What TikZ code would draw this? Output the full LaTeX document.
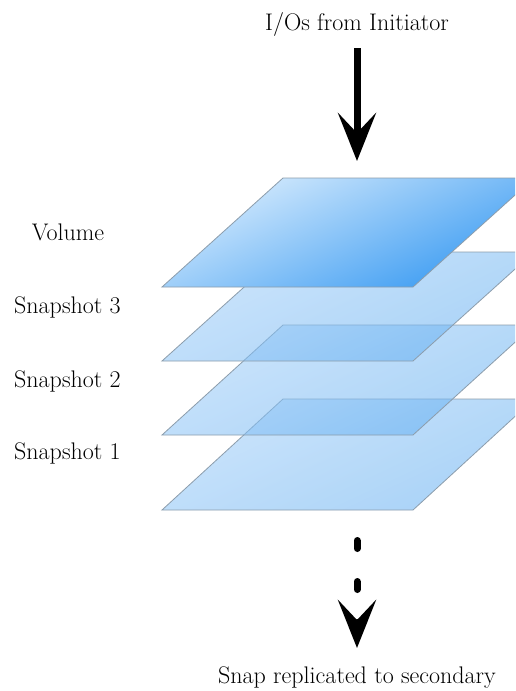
\documentclass[tikz,border=0pt]{standalone}
\usetikzlibrary{arrows.meta}
\definecolor{edgegray}{HTML}{8C9DAC}
\definecolor{volL}{HTML}{D6EBFD}
\definecolor{volD}{HTML}{3A9BF2}
\definecolor{snapL}{HTML}{A2CFF8}
\definecolor{snapD}{HTML}{62AEF2}
\begin{document}
\begin{tikzpicture}[x=1pt,y=-1pt,
  plane/.style={draw=edgegray, line width=0.8pt},
  snapplane/.style={plane, top color=snapL, bottom color=snapD, shading angle=25, fill opacity=0.55},
  volplane/.style={plane, top color=volL, bottom color=volD, shading angle=25},
  lbl/.style={font=\fontsize{24}{28}\selectfont, inner sep=0pt},
  headtip/.style={-{Stealth[length=48pt,width=38pt,inset=20pt]}},
  bigarrow/.style={line width=7pt, headtip},
  dasharrow/.style={line width=7pt, line cap=round, dash pattern=on 8pt off 33pt, headtip}]
\useasboundingbox (0,0) rectangle (515,691);
\clip (0,0) rectangle (515,691);
\fill[white] (0,0) rectangle (515,691);

% planes, bottom to top
\shade[snapplane] (162,510) -- (413,510) -- (534,399) -- (283,399) -- cycle;
\shade[snapplane] (162,435) -- (413,435) -- (534,325) -- (283,325) -- cycle;
\shade[snapplane] (162,361) -- (413,361) -- (534,252) -- (283,252) -- cycle;
\shade[volplane]  (162,287) -- (413,287) -- (534,178) -- (283,178) -- cycle;

% labels
\node[lbl, anchor=base] (io) at (357,30) {I/Os from Initiator};
\node[lbl, anchor=base] (vol) at (68,240) {Volume};
\node[lbl, anchor=base west] (s3) at (14,313) {Snapshot 3};
\node[lbl, anchor=base west] (s2) at (14,387) {Snapshot 2};
\node[lbl, anchor=base west] (s1) at (14,459) {Snapshot 1};
\node[lbl, anchor=base] (rep) at (357,683) {Snap replicated to secondary};

% arrows
\coordinate (inA) at (357,48);
\coordinate (inB) at (357,161);
\draw[bigarrow] (inA) -- (inB);
\coordinate (outA) at (357,540.5);
\coordinate (outB) at (357,648);
\draw[dasharrow] (outA) -- (outB);
\end{tikzpicture}
\end{document}
